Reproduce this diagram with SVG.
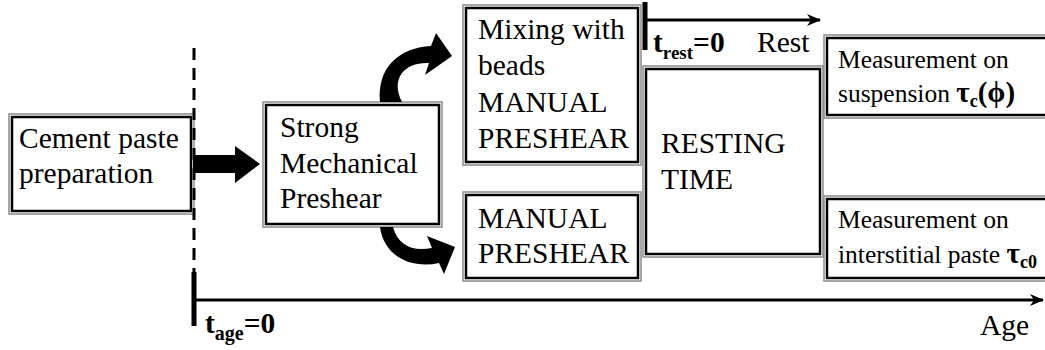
<svg xmlns="http://www.w3.org/2000/svg" width="1045" height="350" viewBox="0 0 1045 350">
<style>
.o{fill:none;stroke:#8a8a8a;stroke-width:1.5}
.i{fill:#fff;stroke:#000;stroke-width:2.5}
.ax{stroke:#000;stroke-width:3;fill:none}
</style>
<defs>
<marker id="ah" markerWidth="14" markerHeight="12" refX="13" refY="6" orient="auto" markerUnits="userSpaceOnUse">
<path d="M0,0 L14,6 L0,12 L4,6 Z" fill="#000"/>
</marker>
</defs>
<rect width="1045" height="350" fill="#fff"/>
<g font-family="Liberation Serif, Times New Roman, DejaVu Serif, serif" font-size="29.5" fill="#000">
<g id="cement">
<rect class="i" x="12" y="117" width="179" height="94"/>
<rect class="o" x="9" y="114" width="185" height="100"/>
<text x="19" y="148">Cement paste</text>
<text x="19" y="183">preparation</text>
</g>
<g id="strong">
<rect class="i" x="266" y="105" width="173" height="119"/>
<rect class="o" x="263" y="102" width="179" height="125"/>
<text x="280" y="137">Strong</text>
<text x="280" y="173">Mechanical</text>
<text x="280" y="208">Preshear</text>
</g>
<g id="mixing">
<rect class="i" x="466" y="8" width="172" height="154"/>
<rect class="o" x="463" y="5" width="178" height="160"/>
<text x="478" y="39">Mixing with</text>
<text x="478" y="75">beads</text>
<text x="478" y="112">MANUAL</text>
<text x="478" y="148">PRESHEAR</text>
</g>
<g id="manual">
<rect class="i" x="466" y="195" width="172" height="83"/>
<rect class="o" x="463" y="192" width="178" height="89"/>
<text x="478" y="228">MANUAL</text>
<text x="478" y="263">PRESHEAR</text>
</g>
<g id="resting">
<rect class="i" x="646" y="69" width="174" height="185"/>
<rect class="o" x="643" y="66" width="180" height="191"/>
<text x="661" y="153">RESTING</text>
<text x="661" y="189">TIME</text>
</g>
<g id="meas1">
<rect class="i" x="827" y="38" width="222" height="77"/>
<rect class="o" x="824" y="35" width="228" height="83"/>
<text x="838" y="68" font-size="25.5">Measurement on</text>
<text x="838" y="102" font-size="25.5">suspension <tspan font-weight="bold" font-size="29">τ</tspan><tspan font-weight="bold" font-size="18" dy="5">c</tspan><tspan font-weight="bold" font-size="29" dy="-5">(ϕ)</tspan></text>
</g>
<g id="meas2">
<rect class="i" x="827" y="199" width="222" height="79"/>
<rect class="o" x="824" y="196" width="228" height="85"/>
<text x="838" y="228" font-size="25.5">Measurement on</text>
<text x="838" y="263" font-size="25.5">interstitial paste <tspan font-weight="bold" font-size="29">τ</tspan><tspan font-weight="bold" font-size="18" dy="5">c0</tspan></text>
</g>
<g id="connectors">
<line x1="194" y1="48" x2="194" y2="272" stroke="#000" stroke-width="3" stroke-dasharray="12,8"/>
<path d="M193,155 L235,155 L235,146 L260,164 L235,183 L235,173 L193,173 Z" fill="#000"/>
<path d="M380,102 C377,68 398,48 431,46 L436,33 L452,56 L425,75 L429,63 C405,62 390,78 402,102 Z" fill="#000"/>
<path d="M380,227 C384,257 412,269 439,263 L444,274 L455,247 L427,236 L432,248 C412,252 398,245 393,227 Z" fill="#000"/>
<line class="ax" x1="194" y1="300" x2="1043" y2="300" marker-end="url(#ah)"/>
<line x1="194" y1="272" x2="194" y2="326" stroke="#000" stroke-width="5"/>
<line class="ax" x1="645" y1="20" x2="820" y2="20" marker-end="url(#ah)"/>
<line x1="645" y1="2" x2="645" y2="50" stroke="#000" stroke-width="5"/>
</g>
<text x="205" y="333" font-weight="bold">t<tspan font-size="20" dy="7">age</tspan><tspan dy="-7">=0</tspan></text>
<text x="980" y="335">Age</text>
<text x="653" y="52" font-weight="bold">t<tspan font-size="19" dy="7">rest</tspan><tspan dy="-7">=0</tspan></text>
<text x="757" y="52">Rest</text>
</g>
</svg>
